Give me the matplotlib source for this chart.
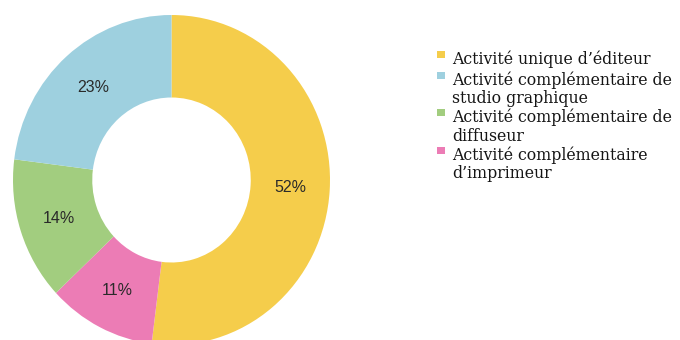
import matplotlib
matplotlib.use("Agg")
import matplotlib.pyplot as plt
from matplotlib.patches import Rectangle

# legend order
labels = [
    "Activité unique d’éditeur",
    "Activité complémentaire de\nstudio graphique",
    "Activité complémentaire de\ndiffuseur",
    "Activité complémentaire\nd’imprimeur",
]
values = [52, 23, 14, 11]
colors = ["#F5CD4B", "#9ED0DF", "#A2CD7F", "#EC7CB5"]

# clockwise order round the ring, from the top
ring_order = [0, 3, 2, 1]

fig = plt.figure(figsize=(6.8, 3.4), dpi=100)
# ring is a little taller than wide in the original, and cut at the bottom
ax = fig.add_axes([13 / 680, -5 / 340, 317 / 680, 330 / 340])

wedges, texts, autotexts = ax.pie(
    [values[i] for i in ring_order],
    colors=[colors[i] for i in ring_order],
    startangle=90,
    counterclock=False,
    radius=1,
    autopct="%d%%",
    pctdistance=0.75,
    wedgeprops=dict(width=0.5, linewidth=0),
    textprops=dict(fontsize=11.5, color="#2a2a2a", family="Liberation Sans"),
)
ax.set_xlim(-1, 1)
ax.set_ylim(-1, 1)
ax.set_aspect("auto")
ax.axis("off")

# legend drawn by hand so the marker sits on the first line
line_h = 16.5
gap = 21
y = 58.3
for lab, col in zip(labels, colors):
    fig.patches.append(Rectangle((437 / 680, 1 - (y - 0.5) / 340), 8 / 680, 7 / 340,
                                 transform=fig.transFigure, facecolor=col,
                                 edgecolor="none"))
    fig.text(452 / 680, 1 - (y - 8) / 340, lab, ha="left", va="top",
             fontsize=11.3, family="DejaVu Serif", color="#151515",
             linespacing=1.13)
    y += gap + line_h * lab.count("\n")

fig.savefig("out.png", dpi=100)
